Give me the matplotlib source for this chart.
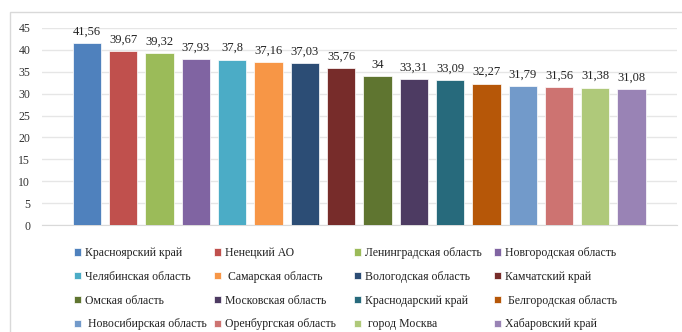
import matplotlib.pyplot as plt
from matplotlib.patches import Rectangle
import numpy as np

plt.rcParams["font.family"] = ["Liberation Serif", "DejaVu Serif"]

# данные
regions = ["Красноярский край", "Ненецкий АО", "Ленинградская область", "Новгородская область",
           "Челябинская область", " Самарская область", "Вологодская область", "Камчатский край",
           "Омская область", "Московская область", "Краснодарский край", " Белгородская область",
           " Новосибирская область", "Оренбургская область", " город Москва", "Хабаровский край"]
values = [41.56, 39.67, 39.32, 37.93, 37.80, 37.16, 37.03, 35.76,
          34.00, 33.31, 33.09, 32.27, 31.79, 31.56, 31.38, 31.08]
value_labels = ["41,56", "39,67", "39,32", "37,93", "37,8", "37,16", "37,03", "35,76",
                "34", "33,31", "33,09", "32,27", "31,79", "31,56", "31,38", "31,08"]
yticks = [0, 5, 10, 15, 20, 25, 30, 35, 40, 45]

colors = ["#4F81BD", "#C0504D", "#9BBB59", "#8064A2", "#4BACC6", "#F79646",
          "#2C4D75", "#772C2A", "#5F7530", "#4D3B62", "#276A7C", "#B65708",
          "#729ACA", "#CD7371", "#AFC97A", "#9983B5"]

fig = plt.figure(figsize=(6.82, 3.32), dpi=100)
# рамка диаграммы
fig.patches.append(Rectangle((10 / 682, -0.1), 1.0, 1 - 12 / 332 + 0.1, transform=fig.transFigure,
                             fill=False, edgecolor="#D9D9D9", linewidth=1.0))

ax = fig.add_axes([42 / 682, 1 - 225 / 332, (677 - 42) / 682, (225 - 28) / 332])
x = np.arange(len(values))
bars = ax.bar(x, values, width=0.78, color=colors, edgecolor="white", linewidth=0.5,
              label=regions, zorder=3)

for xi, v, lab in zip(x, values, value_labels):
    ax.annotate(lab, (xi, v), xytext=(0, 4), textcoords="offset points",
                ha="center", va="bottom", fontsize=9, color="#222222")

ax.set_xlim(-1.24, 16.25)
ax.set_ylim(0, 45)
ax.set_yticks(yticks)
ax.set_yticklabels([str(t) for t in yticks], fontsize=8.5, color="#333333")
ax.set_xticks([])
ax.tick_params(axis="y", length=0, pad=8.5)
ax.grid(axis="y", color="#E6E6E6", linewidth=1.0, zorder=0)
for s in ["top", "right", "left"]:
    ax.spines[s].set_visible(False)
ax.spines["bottom"].set_color("#D9D9D9")

# легенда: 4 колонки, элементы идут по строкам
col_x = [74, 214, 354, 494]
for c, cx in enumerate(col_x):
    idx = [r * 4 + c for r in range(4)]
    leg = fig.legend([bars.patches[i] for i in idx], [regions[i] for i in idx],
                     loc="upper left", bbox_to_anchor=(cx / 682, 1 - 247 / 332),
                     ncol=1, frameon=False, fontsize=8.5, handlelength=0.6, handleheight=0.6,
                     handletextpad=0.35, labelspacing=1.0, borderpad=0, borderaxespad=0)
    for t in leg.get_texts():
        t.set_color("#222222")

fig.savefig("out.png", dpi=100)
